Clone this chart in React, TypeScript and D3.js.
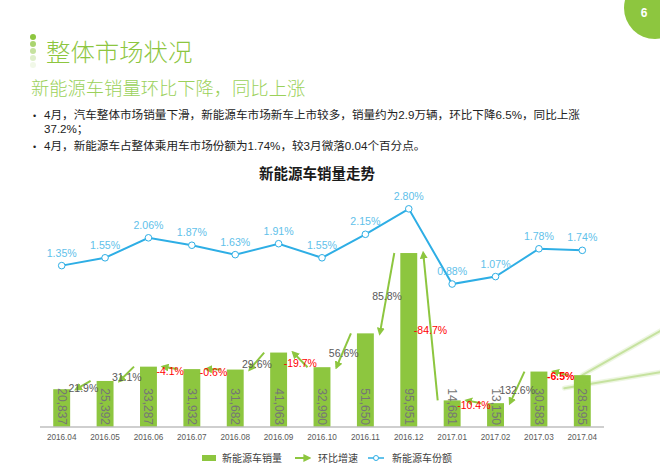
import * as d3 from "d3";

const months = [
  "2016.04", "2016.05", "2016.06", "2016.07", "2016.08", "2016.09", "2016.10",
  "2016.11", "2016.12", "2017.01", "2017.02", "2017.03", "2017.04",
];
const sales = [20837, 25392, 33287, 31932, 31682, 41063, 32990, 51650, 95951, 14681, 13150, 30583, 28595];
const share = [1.35, 1.55, 2.06, 1.87, 1.63, 1.91, 1.55, 2.15, 2.8, 0.88, 1.07, 1.78, 1.74];
// month-on-month growth, first month has none
const growth = [null, 21.9, 31.1, -4.1, -0.6, 29.6, -19.7, 56.6, 85.8, -84.7, -10.4, 132.6, -6.5];

const bullets = [
  ["4月，汽车整体市场销量下滑，新能源车市场新车上市较多，销量约为2.9万辆，环比下降6.5%，同比上涨", "37.2%；"],
  ["4月，新能源车占整体乘用车市场份额为1.74%，较3月微落0.04个百分点。"],
];

const W = 660;
const H = 469;
const GREEN = "#8dc63f";
const BLUE = "#2eaee5";
const FONT = "'Liberation Sans', 'Noto Sans CJK SC', sans-serif";

export default function App() {
  const x = d3.scaleBand<string>().domain(months).range([40, 604]).paddingInner(0.61).paddingOuter(0.305);
  const yBar = d3.scaleLinear().domain([0, 100000]).range([427, 245.7]);
  const yShare = d3.scaleLinear().domain([0, 3]).range([318.5, 201]);
  const bw = x.bandwidth();
  const cx = (m: string) => (x(m) ?? 0) + bw / 2;

  const line = d3
    .line<number>()
    .x((_, i) => cx(months[i]))
    .y((d) => yShare(d));

  const arrows = growth
    .map((g, i) => {
      if (g == null) return null;
      const cur = months[i];
      const prev = months[i - 1];
      const x1 = (x(cur) ?? 0) - 6;
      const y1 = yBar(sales[i]);
      const x2 = (x(prev) ?? 0) + bw + 6;
      const y2 = yBar(sales[i - 1]);
      return { g, x1, y1, x2, y2, last: i === months.length - 1 };
    })
    .filter(Boolean) as { g: number; x1: number; y1: number; x2: number; y2: number; last: boolean }[];

  const lastM = months[months.length - 1];
  const lastTop = yBar(sales[sales.length - 1]);

  return (
    <svg width={W} height={H} style={{ position: "absolute", left: 0, top: 0, background: "#fff" }} fontFamily={FONT}>
      <defs>
        <marker id="arrowHead" viewBox="0 0 10 10" refX="7" refY="5" markerWidth="4" markerHeight="4" orient="auto">
          <path d="M0,0 L10,5 L0,10 z" fill={GREEN} />
        </marker>
      </defs>

      {/* page number */}
      <circle cx={655} cy={8} r={31} fill={GREEN} />
      <text x={644} y={17} fill="#fff" fontSize={12} fontWeight="bold" textAnchor="middle">6</text>

      {/* heading */}
      {[1, 0.75, 0.5, 0.28, 0.12].map((o, i) => (
        <circle key={i} cx={33} cy={37 + i * 7} r={3} fill={GREEN} opacity={o} />
      ))}
      <text x={46} y={61} fill={GREEN} fontSize={24.4} fontFamily="'Noto Sans CJK SC', sans-serif" fontWeight={300}>整体市场状况</text>
      <text x={31} y={95} fill="#9bd15a" fontSize={18.3} fontFamily="'Noto Sans CJK SC', sans-serif" fontWeight={300}>新能源车销量环比下降，同比上涨</text>

      {/* bullets */}
      <g fontSize={11.6} fill="#222">
        <text x={33} y={119} fontSize={9}>•</text>
        <text x={44} y={119}>{bullets[0][0]}</text>
        <text x={44} y={133}>{bullets[0][1]}</text>
        <text x={33} y={150} fontSize={9}>•</text>
        <text x={44} y={150}>{bullets[1][0]}</text>
      </g>

      {/* chart title */}
      <text x={317} y={179} textAnchor="middle" fontSize={14.5} fontWeight="bold" fill="#1a1a1a">新能源车销量走势</text>

      {/* bars */}
      {months.map((m, i) => (
        <rect key={m} x={x(m)} y={yBar(sales[i])} width={bw} height={yBar(0) - yBar(sales[i])} fill={GREEN} />
      ))}
      {months.map((m, i) => (
        <text
          key={m}
          transform={`translate(${cx(m)},${yBar(0) - 2}) rotate(90)`}
          textAnchor="end"
          dominantBaseline="central"
          fontSize={12}
          fill="#767676"
        >
          {d3.format(",")(sales[i])}
        </text>
      ))}

      {/* axis */}
      <line x1={40} x2={604} y1={yBar(0)} y2={yBar(0)} stroke="#bfbfbf" strokeWidth={1.5} />
      {months.map((m) => (
        <text key={m} x={cx(m)} y={440} textAnchor="middle" fontSize={8.2} fill="#595959">{m}</text>
      ))}

      {/* month-on-month arrows */}
      {arrows.map((a, i) => (
        <line key={i} x1={a.x1} y1={a.y1} x2={a.x2} y2={a.y2} stroke={GREEN} strokeWidth={2} markerEnd="url(#arrowHead)" />
      ))}
      {arrows.map((a, i) => (
        <text
          key={i}
          x={(a.x1 + a.x2) / 2}
          y={(a.y1 + a.y2) / 2 + 3}
          textAnchor="middle"
          dominantBaseline="central"
          fontSize={10.5}
          fontWeight={a.last ? "bold" : "normal"}
          fill={a.g < 0 ? "#ff0000" : "#595959"}
        >
          {a.g.toFixed(1)}%
        </text>
      ))}

      {/* share line */}
      <path d={line(share) ?? ""} fill="none" stroke={BLUE} strokeWidth={2} />
      {share.map((v, i) => (
        <circle key={i} cx={cx(months[i])} cy={yShare(v)} r={3.3} fill="#fff" stroke={BLUE} strokeWidth={1} />
      ))}
      {share.map((v, i) => (
        <text key={i} x={cx(months[i])} y={yShare(v) - 9} textAnchor="middle" fontSize={10.6} fill="#5fc1ea">
          {v.toFixed(2)}%
        </text>
      ))}

      {/* callout lines toward latest month */}
      <g stroke={GREEN} strokeLinecap="round">
        <line x1={662} y1={330} x2={cx(lastM)} y2={lastTop} strokeWidth={5} opacity={0.15} />
        <line x1={662} y1={330} x2={cx(lastM)} y2={lastTop} strokeWidth={2} opacity={0.4} />
        <line x1={662} y1={372} x2={cx(lastM) - 18} y2={lastTop + 13} strokeWidth={5} opacity={0.15} />
        <line x1={662} y1={372} x2={cx(lastM) - 18} y2={lastTop + 13} strokeWidth={2} opacity={0.4} />
      </g>

      {/* legend */}
      <g fontSize={10} fill="#404040" fontFamily="'Noto Sans CJK SC', sans-serif">
        <rect x={202} y={455} width={14} height={6} fill={GREEN} />
        <text x={222} y={462}>新能源车销量</text>
        <line x1={295} x2={309} y1={458} y2={458} stroke={GREEN} strokeWidth={2} markerEnd="url(#arrowHead)" />
        <text x={318} y={462}>环比增速</text>
        <line x1={368} x2={384} y1={458} y2={458} stroke={BLUE} strokeWidth={1.5} />
        <circle cx={376} cy={458} r={2.5} fill="#fff" stroke={BLUE} strokeWidth={1} />
        <text x={392} y={462}>新能源车份额</text>
      </g>
    </svg>
  );
}
